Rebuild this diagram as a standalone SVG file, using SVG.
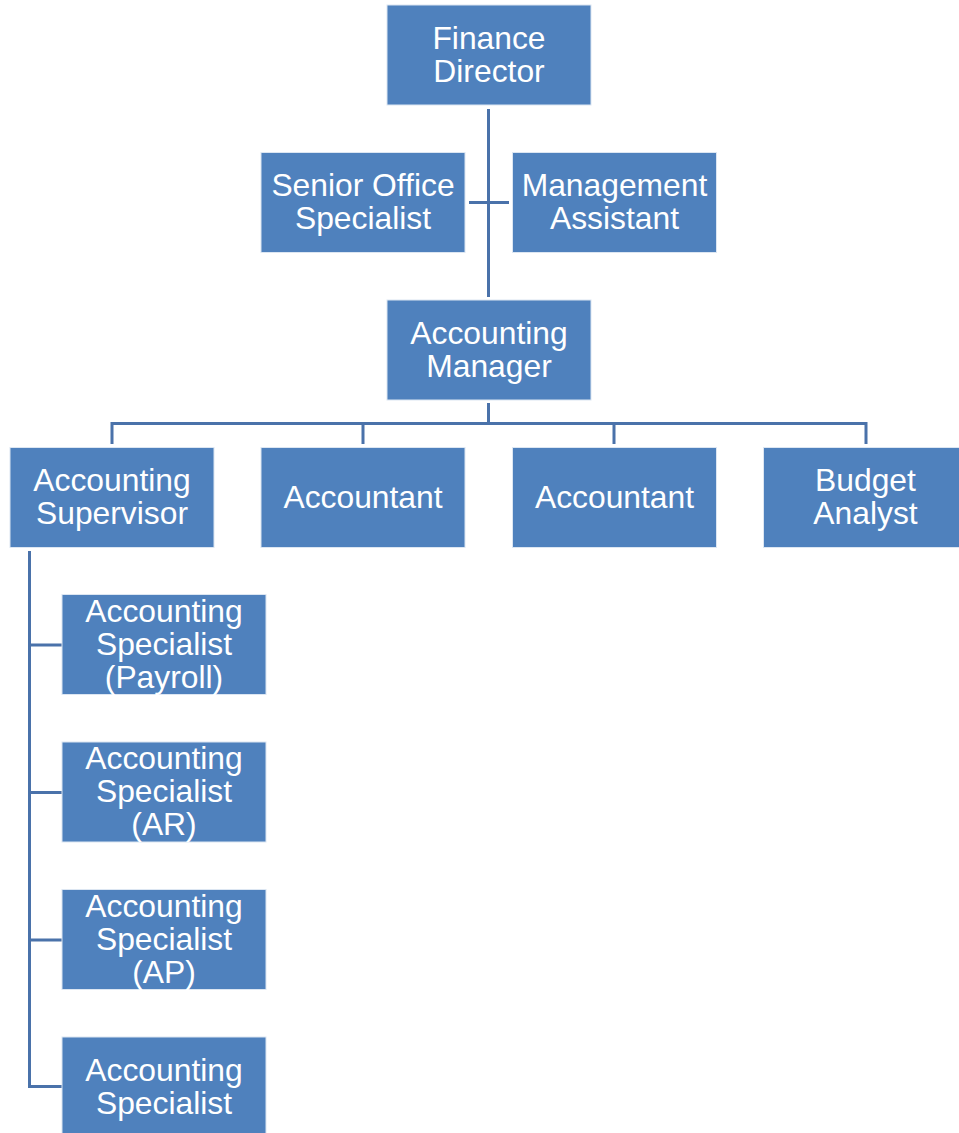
<svg xmlns="http://www.w3.org/2000/svg" width="959" height="1133" viewBox="0 0 959 1133">
<style>
.box{fill:#4f81bd;stroke:#dce6f2;stroke-width:1}
.t{font-family:"Liberation Sans",Arial,sans-serif;font-size:31.8px;fill:#ffffff;text-anchor:middle}
.c{fill:none;stroke:#4a72aa;stroke-width:3}
</style>
<rect width="959" height="1133" fill="#ffffff"/>
<g id="connectors">
<path class="c" d="M488.5 109V297"/>
<path class="c" d="M469 202.5H509"/>
<path class="c" d="M488.5 403V423.5M112 444V423.5H866V444M363 423.5V444M614 423.5V444"/>
<path class="c" d="M29.5 551V1086.5H62M29.5 645H62M29.5 792.5H62M29.5 940H62"/>
</g>
<g id="finance-director"><rect class="box" x="387" y="5" width="204" height="100"/><text class="t" x="489" y="49">Finance</text><text class="t" x="489" y="82">Director</text></g>
<g id="senior-office-specialist"><rect class="box" x="261" y="152.5" width="204" height="100"/><text class="t" x="363" y="196">Senior Office</text><text class="t" x="363" y="229">Specialist</text></g>
<g id="management-assistant"><rect class="box" x="512.5" y="152.5" width="204" height="100"/><text class="t" x="614.5" y="196">Management</text><text class="t" x="614.5" y="229">Assistant</text></g>
<g id="accounting-manager"><rect class="box" x="387" y="300" width="204" height="100"/><text class="t" x="489" y="343.5">Accounting</text><text class="t" x="489" y="376.5">Manager</text></g>
<g id="accounting-supervisor"><rect class="box" x="10" y="447.5" width="204" height="100"/><text class="t" x="112" y="491">Accounting</text><text class="t" x="112" y="524">Supervisor</text></g>
<g id="accountant-1"><rect class="box" x="261" y="447.5" width="204" height="100"/><text class="t" x="363" y="508">Accountant</text></g>
<g id="accountant-2"><rect class="box" x="512.5" y="447.5" width="204" height="100"/><text class="t" x="614.5" y="508">Accountant</text></g>
<g id="budget-analyst"><rect class="box" x="763.5" y="447.5" width="204" height="100"/><text class="t" x="865.5" y="491">Budget</text><text class="t" x="865.5" y="524">Analyst</text></g>
<g id="specialist-payroll"><rect class="box" x="62" y="594.5" width="204" height="100"/><text class="t" x="164" y="621.5">Accounting</text><text class="t" x="164" y="654.5">Specialist</text><text class="t" x="164" y="687.5">(Payroll)</text></g>
<g id="specialist-ar"><rect class="box" x="62" y="742" width="204" height="100"/><text class="t" x="164" y="769">Accounting</text><text class="t" x="164" y="802">Specialist</text><text class="t" x="164" y="835">(AR)</text></g>
<g id="specialist-ap"><rect class="box" x="62" y="889.5" width="204" height="100"/><text class="t" x="164" y="916.5">Accounting</text><text class="t" x="164" y="949.5">Specialist</text><text class="t" x="164" y="982.5">(AP)</text></g>
<g id="specialist"><rect class="box" x="62" y="1037" width="204" height="100"/><text class="t" x="164" y="1080.5">Accounting</text><text class="t" x="164" y="1113.5">Specialist</text></g>
</svg>
